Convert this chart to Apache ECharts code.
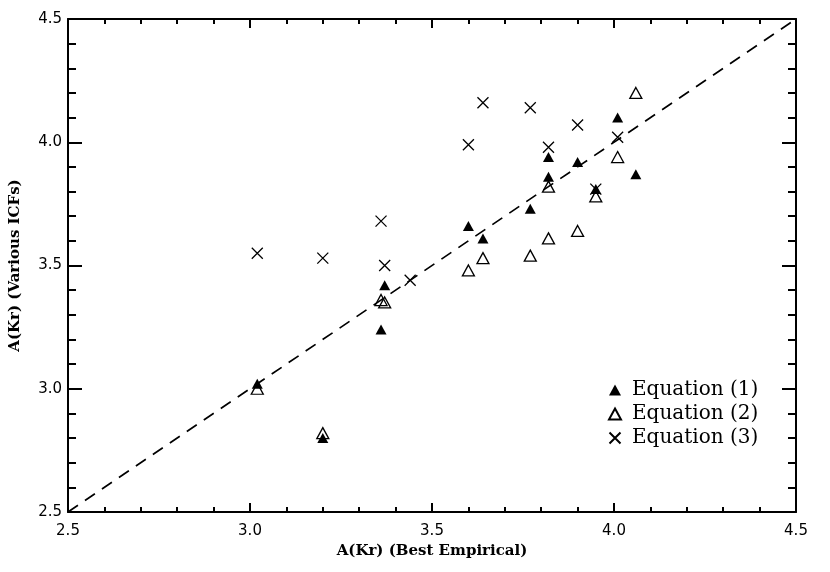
<!DOCTYPE html>
<html>
<head>
<meta charset="utf-8">
<script src="https://cdn.jsdelivr.net/npm/echarts@6/dist/echarts.min.js"></script>
<style>html,body{margin:0;padding:0;background:#fff;}#c{width:830px;height:572px;}</style>
</head>
<body>
<div id="c"></div>
<script>
const xTicks = ['2.5', '3.0', '3.5', '4.0', '4.5'];
const yTicks = ['2.5', '3.0', '3.5', '4.0', '4.5'];

const eq1X = [3.02, 3.20, 3.36, 3.37, 3.60, 3.64, 3.77, 3.82, 3.82, 3.90, 3.95, 4.01, 4.06];
const eq1Y = [3.02, 2.80, 3.24, 3.42, 3.66, 3.61, 3.73, 3.94, 3.86, 3.92, 3.81, 4.10, 3.87];

const eq2X = [3.02, 3.20, 3.36, 3.37, 3.60, 3.64, 3.77, 3.82, 3.82, 3.90, 3.95, 4.01, 4.06];
const eq2Y = [3.00, 2.82, 3.36, 3.35, 3.48, 3.53, 3.54, 3.82, 3.61, 3.64, 3.78, 3.94, 4.20];

const eq3X = [3.02, 3.20, 3.36, 3.37, 3.44, 3.60, 3.64, 3.77, 3.82, 3.90, 3.95, 4.01];
const eq3Y = [3.55, 3.53, 3.68, 3.50, 3.44, 3.99, 4.16, 4.14, 3.98, 4.07, 3.81, 4.02];

const lineX = [2.5, 4.5];
const lineY = [2.5, 4.5];

const names = ['Equation (1)', 'Equation (2)', 'Equation (3)'];

const pairs = (xs, ys) => xs.map((x, i) => [x, ys[i]]);

const chart = echarts.init(document.getElementById('c'), null, {renderer: 'canvas'});

const axisMin = parseFloat(xTicks[0]);
const axisMax = parseFloat(xTicks[xTicks.length - 1]);

function xAxisDef(pos, showLabels) {
  return {
    type: 'value', position: pos, min: axisMin, max: axisMax, interval: 0.5,
    axisLine: {show: true, onZero: false, lineStyle: {color: '#000', width: 2}},
    axisTick: {show: true, inside: true, length: 9, lineStyle: {color: '#000', width: 2}},
    minorTick: {show: true, splitNumber: 5, length: 5, lineStyle: {color: '#000', width: 2}},
    splitLine: {show: false},
    axisLabel: {show: showLabels, color: '#000', fontFamily: 'DejaVu Sans', fontSize: 15, margin: 12,
      formatter: v => v.toFixed(1)},
    name: showLabels ? 'A(Kr) (Best Empirical)' : '',
    nameLocation: 'middle', nameGap: 24,
    nameTextStyle: {color: '#000', fontFamily: 'DejaVu Serif', fontWeight: 'bold', fontSize: 15}
  };
}
function yAxisDef(pos, showLabels) {
  return {
    type: 'value', position: pos, min: parseFloat(yTicks[0]), max: parseFloat(yTicks[yTicks.length - 1]), interval: 0.5,
    axisLine: {show: true, onZero: false, lineStyle: {color: '#000', width: 2}},
    axisTick: {show: true, inside: true, length: 14, lineStyle: {color: '#000', width: 2}},
    minorTick: {show: true, splitNumber: 5, length: 8, lineStyle: {color: '#000', width: 2}},
    splitLine: {show: false},
    axisLabel: {show: showLabels, color: '#000', fontFamily: 'DejaVu Sans', fontSize: 15, margin: 6,
      formatter: v => v.toFixed(1)},
    name: showLabels ? 'A(Kr) (Various ICFs)' : '',
    nameLocation: 'middle', nameGap: 45,
    nameTextStyle: {color: '#000', fontFamily: 'DejaVu Serif', fontWeight: 'bold', fontSize: 15}
  };
}

chart.setOption({
  animation: false,
  backgroundColor: '#fff',
  grid: {left: 68, right: 34, top: 19, bottom: 60, containLabel: false},
  xAxis: [xAxisDef('bottom', true), xAxisDef('top', false)],
  yAxis: [yAxisDef('left', true), yAxisDef('right', false)],
  legend: {
    show: true, orient: 'vertical', left: 603, top: 375,
    itemWidth: 12, itemHeight: 11, itemGap: 4,
    data: names,
    textStyle: {color: '#000', fontFamily: 'DejaVu Serif', fontSize: 20, padding: [0, 0, 0, 6]}
  },
  series: [
    {
      type: 'line', name: 'diag', data: pairs(lineX, lineY), symbol: 'none', silent: true,
      lineStyle: {color: '#000', width: 1.7, type: [12, 8.5]}, z: 1
    },
    {
      type: 'scatter', name: names[0], data: pairs(eq1X, eq1Y), symbol: 'triangle', symbolSize: [11, 10],
      itemStyle: {color: '#000', opacity: 1}, z: 3
    },
    {
      type: 'scatter', name: names[1], data: pairs(eq2X, eq2Y), symbol: 'triangle', symbolSize: [12, 11],
      itemStyle: {color: 'rgba(255,255,255,0)', borderColor: '#000', borderWidth: 1.3, opacity: 1}, z: 4
    },
    {
      type: 'scatter', name: names[2], data: pairs(eq3X, eq3Y), symbol: 'path://M0,0L10,10M10,0L0,10', symbolSize: [11, 11],
      itemStyle: {color: 'rgba(255,255,255,0)', borderColor: '#000', borderWidth: 1.3, opacity: 1}, z: 4
    }
  ]
});
</script>
</body>
</html>
